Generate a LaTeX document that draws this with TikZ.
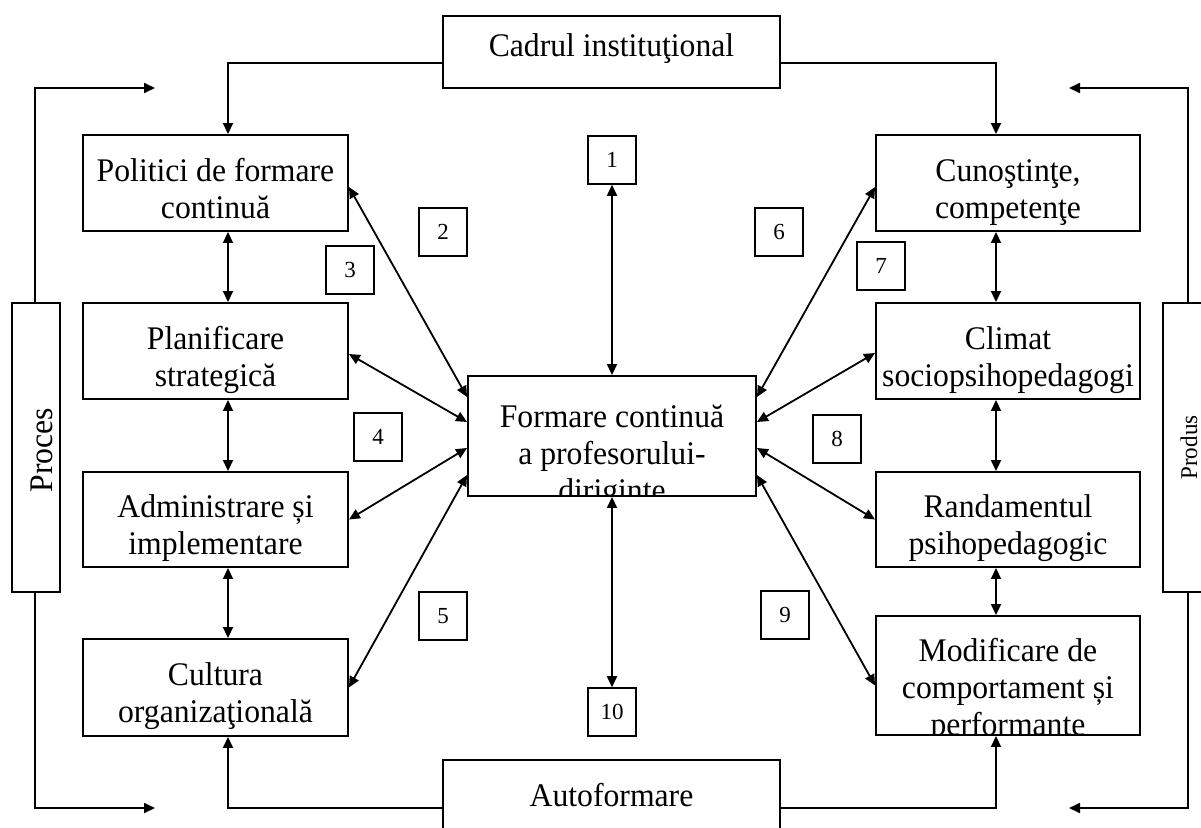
\documentclass[tikz,border=0pt]{standalone}
\usepackage{fontspec}
\setmainfont{Liberation Serif}
\newfontfamily\tnr[FakeStretch=0.96]{Liberation Serif}
\usetikzlibrary{arrows.meta,calc}
\tikzset{
 box/.style={draw, line width=1.9pt, inner sep=0pt},
 numbox/.style={draw, line width=1.6pt, minimum width=48pt, minimum height=48pt, inner sep=0pt, font=\fontsize{23}{26}\selectfont},
 lbl/.style={anchor=base, inner sep=0pt, font=\tnr\fontsize{33}{37}\selectfont},
 con/.style={line width=1.8pt},
 arr/.style={con, -{Triangle[length=11pt,width=10pt]}},
 darr/.style={con, {Triangle[length=11pt,width=10pt]}-{Triangle[length=11pt,width=10pt]}},
}
\begin{document}
\begin{tikzpicture}[x=1pt,y=-1pt]
\useasboundingbox (0,0) rectangle (1201,827);
% main boxes
\node[box, minimum width=337pt, minimum height=72pt] (cad) at (611.5,52) {};
\node[box, minimum width=337pt, minimum height=96pt] (aut) at (611.5,808) {};
\node[box, minimum width=265pt, minimum height=96pt] (pol) at (215.5,183) {};
\node[box, minimum width=265pt, minimum height=96pt] (pla) at (215.5,351) {};
\node[box, minimum width=265pt, minimum height=95pt] (adm) at (215.5,519.5) {};
\node[box, minimum width=265pt, minimum height=97pt] (cul) at (215.5,687.5) {};
\node[box, minimum width=264pt, minimum height=96pt] (cun) at (1008,183) {};
\node[box, minimum width=264pt, minimum height=96pt] (cli) at (1008,351) {};
\node[box, minimum width=264pt, minimum height=95pt] (ran) at (1008,519.5) {};
\node[box, minimum width=264pt, minimum height=119pt] (mod) at (1008,675.5) {};
\node[box, minimum width=288pt, minimum height=120pt] (c) at (612,436) {};
\node[box, minimum width=48pt, minimum height=289pt] (pro) at (36,447.5) {};
\node[box, minimum width=48pt, minimum height=289pt] (prd) at (1187,447.5) {};
% texts
\node[lbl] at ([yshift=-41pt]cad.north) {Cadrul instituţional};
\node[lbl] at ([yshift=-47pt]aut.north) {Autoformare};
\node[lbl] at ([yshift=-47pt]pol.north) {Politici de formare};
\node[lbl] at ([yshift=-84pt]pol.north) {continuă};
\node[lbl] at ([yshift=-47pt]pla.north) {Planificare};
\node[lbl] at ([yshift=-84pt]pla.north) {strategică};
\node[lbl] at ([yshift=-46pt]adm.north) {Administrare și};
\node[lbl] at ([yshift=-83pt]adm.north) {implementare};
\node[lbl] at ([yshift=-47pt]cul.north) {Cultura};
\node[lbl] at ([yshift=-84pt]cul.north) {organizaţională};
\node[lbl] at ([yshift=-47pt]cun.north) {Cunoştinţe,};
\node[lbl] at ([yshift=-84pt]cun.north) {competenţe};
\node[lbl] at ([yshift=-47pt]cli.north) {Climat};
\node[lbl] at ([yshift=-84pt]cli.north) {sociopsihopedagogi};
\begin{scope}
\clip (ran.south west) rectangle (ran.north east);
\node[lbl] at ([yshift=-46pt]ran.north) {Randamentul};
\node[lbl] at ([yshift=-83pt]ran.north) {psihopedagogic};
\end{scope}
\begin{scope}
\clip (mod.south west) rectangle (mod.north east);
\node[lbl] at ([yshift=-46pt]mod.north) {Modificare de};
\node[lbl] at ([yshift=-83pt]mod.north) {comportament și};
\node[lbl] at ([yshift=-120pt]mod.north) {performante};
\end{scope}
\begin{scope}
\clip (c.south west) rectangle (c.north east);
\node[lbl] at ([yshift=-52pt]c.north) {Formare continuă};
\node[lbl] at ([yshift=-89pt]c.north) {a profesorului-};
\node[lbl] at ([yshift=-126pt]c.north) {diriginte};
\end{scope}
\node[lbl, rotate=90] at (52,450) {Proces};
\node[anchor=base, inner sep=0pt, rotate=90, font=\tnr\fontsize{24}{27}\selectfont] at (1197,447.5) {Produs};
% number boxes
\node[numbox] (n1) at (612,160) {1};
\node[numbox] (n2) at (443,232) {2};
\node[numbox] (n3) at (350,270) {3};
\node[numbox] (n4) at (378,437) {4};
\node[numbox] (n5) at (443,616) {5};
\node[numbox] (n6) at (779,232) {6};
\node[numbox] (n7) at (881,266) {7};
\node[numbox] (n8) at (837,439) {8};
\node[numbox] (n9) at (785,615) {9};
\node[numbox] (n10) at (612,712) {10};
% connectors
\draw[darr] (n1) -- (c);
\draw[darr] (n10) -- (c);
\draw[darr] ([yshift=-4pt]pol.east) -- ([yshift=39pt]c.west);
\draw[darr] ([yshift=-3pt]pla.east) -- ([yshift=14pt]c.west);
\draw[darr] (adm.east) -- ([yshift=-12pt]c.west);
\draw[darr] (cul.east) -- ([yshift=-39pt]c.west);
\draw[darr] ([yshift=-4pt]cun.west) -- ([yshift=39pt]c.east);
\draw[darr] ([yshift=-2pt]cli.west) -- ([yshift=14pt]c.east);
\draw[darr] (ran.west) -- ([yshift=-12pt]c.east);
\draw[darr] ([yshift=-10pt]mod.west) -- ([yshift=-39pt]c.east);
\draw[darr] ([xshift=12.5pt]pol.south) -- ([xshift=12.5pt]pla.north);
\draw[darr] ([xshift=12.5pt]pla.south) -- ([xshift=12.5pt]adm.north);
\draw[darr] ([xshift=12.5pt]adm.south) -- ([xshift=12.5pt]cul.north);
\draw[darr] ([xshift=-12pt]cun.south) -- ([xshift=-12pt]cli.north);
\draw[darr] ([xshift=-12pt]cli.south) -- ([xshift=-12pt]ran.north);
\draw[darr] ([xshift=-12pt]ran.south) -- ([xshift=-12pt]mod.north);
\draw[arr] ([yshift=-11pt]cad.west) -| ([xshift=12.5pt]pol.north);
\draw[arr] ([yshift=-11pt]cad.east) -| ([xshift=-12pt]cun.north);
\draw[arr] (aut.west) -| ([xshift=12.5pt]cul.south);
\draw[arr] (aut.east) -| ([xshift=-12pt]mod.south);
\coordinate (lt) at (155,88);
\coordinate (lb) at (155,808);
\coordinate (rt) at (1069,88);
\coordinate (rb) at (1069,808);
\draw[arr] ([xshift=-1pt]pro.north) |- (lt);
\draw[arr] ([xshift=-1pt]pro.south) |- (lb);
\draw[arr] ([xshift=1pt]prd.north) |- (rt);
\draw[arr] ([xshift=1pt]prd.south) |- (rb);
\end{tikzpicture}
\end{document}
